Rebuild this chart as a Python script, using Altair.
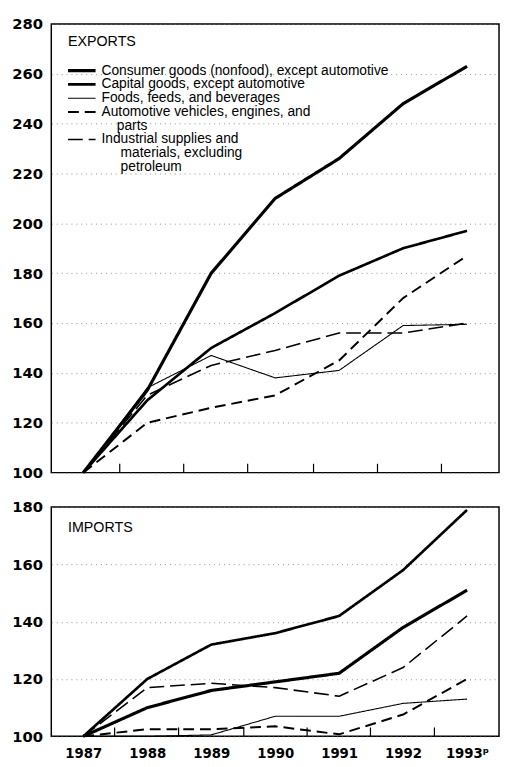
import altair as alt
import pandas as pd

# ---------------- data ----------------
years = [1987, 1988, 1989, 1990, 1991, 1992, 1993]
series_names = [
    "Consumer goods (nonfood), except automotive",
    "Capital goods, except automotive",
    "Foods, feeds, and beverages",
    "Automotive vehicles, engines, and parts",
    "Industrial supplies and materials, excluding petroleum",
]

exports_consumer = [100, 133, 180, 210, 226, 248, 263]
exports_capital = [100, 129, 150, 164, 179, 190, 197]
exports_foods = [100, 134, 147, 138, 141, 159, 159.5]
exports_automotive = [100, 120, 126, 131, 145, 170, 187]
exports_industrial = [100, 131, 143, 149, 156, 156, 160]

imports_consumer = [100, 110, 116, 119, 122, 138, 151]
imports_capital = [100, 120, 132, 136, 142, 158, 179]
imports_foods = [100, 100, 100.5, 107, 107, 111.5, 113]
imports_automotive = [100, 102.5, 102.5, 103.5, 100.7, 107.6, 120]
imports_industrial = [100, 117, 118.5, 117, 114, 124, 142]

export_inner_ticks = [1987.57, 1988.57, 1989.57, 1990.6, 1991.6, 1992.6]
import_inner_ticks = [1987.49, 1988.49, 1989.51, 1990.5, 1991.49, 1992.49]

exports_y_values = [100, 120, 140, 160, 180, 200, 220, 240, 260, 280]
imports_y_values = [100, 120, 140, 160, 180]

# ---------------- styles ----------------
dash_range = [[1, 0], [1, 0], [1, 0], [11, 6], [15, 6]]
width_range = [3.2, 2.7, 1.1, 2.0, 1.6]
TEXT_FONT = "Liberation Sans, Arial, Helvetica, sans-serif"
NUM_FONT = "DejaVu Sans"


def long_table(cols):
    rows = []
    for name, vals in zip(series_names, cols):
        for y, v in zip(years, vals):
            rows.append({"year": y, "value": v, "series": name})
    return pd.DataFrame(rows)


exports_df = long_table([exports_consumer, exports_capital, exports_foods,
                         exports_automotive, exports_industrial])
imports_df = long_table([imports_consumer, imports_capital, imports_foods,
                         imports_automotive, imports_industrial])

ind = "\u200b" + "\u00a0" * 4
ind2 = "\u200b" + "\u00a0" * 5
label_expr = (
    "datum.label == 'Automotive vehicles, engines, and parts' ? "
    "['Automotive vehicles, engines, and', '" + ind + "parts'] : "
    "datum.label == 'Industrial supplies and materials, excluding petroleum' ? "
    "['Industrial supplies and', '" + ind2 + "materials, excluding', '" + ind2 + "petroleum'] : "
    "datum.label"
)

legend = alt.Legend(
    title="EXPORTS",
    orient="none",
    legendX=17,
    legendY=11,
    symbolType="M-3.5,0H10.5",
    symbolSize=16,
    symbolStrokeColor="black",
    symbolFillColor="transparent",
    labelExpr=label_expr,
    labelFont=TEXT_FONT,
    labelFontSize=14,
    labelColor="black",
    labelOffset=20,
    labelLimit=400,
    rowPadding=0,
    titleFont=TEXT_FONT,
    titleFontSize=14.5,
    titleFontWeight="normal",
    titleColor="black",
    titlePadding=15,
)

x_scale = alt.Scale(domain=[1986.5, 1993.5], nice=False, zero=False)


def panel(df, ydomain, yvalues, inner_ticks, height, top):
    y_axis = alt.Axis(
        values=yvalues, title=None, ticks=False, domain=False, grid=True,
        gridDash=[1, 4], gridColor="#777", gridWidth=0.8,
        labelFont=NUM_FONT, labelFontWeight="bold", labelFontSize=15,
        labelColor="black", labelPadding=9,
    )
    if top:
        x_axis = None
        lg = legend
    else:
        x_axis = alt.Axis(
            values=years, title=None, ticks=False, domain=False, grid=False,
            labelExpr="datum.value == 1993 ? '1993\u1d56' : datum.value",
            labelFont=NUM_FONT, labelFontWeight="bold", labelFontSize=13.5,
            labelColor="black", labelPadding=11,
        )
        lg = None
    dash = alt.StrokeDash("series:N", sort=series_names,
                          scale=alt.Scale(type="ordinal", domain=series_names, range=dash_range),
                          legend=lg)
    width = alt.StrokeWidth("series:N", sort=series_names,
                            scale=alt.Scale(type="ordinal", domain=series_names, range=width_range),
                            legend=lg)

    lines = alt.Chart(df).mark_line(color="black", strokeJoin="round").encode(
        x=alt.X("year:Q", scale=x_scale, axis=x_axis),
        y=alt.Y("value:Q", scale=alt.Scale(domain=ydomain, nice=False, zero=False), axis=y_axis),
        strokeDash=dash,
        strokeWidth=width,
    )
    ticks = alt.Chart(pd.DataFrame({"pos": inner_ticks})).mark_rule(color="black", strokeWidth=1.2).encode(
        x=alt.X("pos:Q", scale=x_scale),
        y=alt.value(height),
        y2=alt.value(height - 9),
    )
    layers = [lines, ticks]
    if not top:
        label = alt.Chart(pd.DataFrame({"t": ["IMPORTS"]})).mark_text(
            align="left", baseline="middle", font=TEXT_FONT, fontSize=14.5, color="black"
        ).encode(text="t:N", x=alt.value(17), y=alt.value(21))
        layers.append(label)
    return alt.layer(*layers).properties(width=455, height=height)


top_chart = panel(exports_df, [100, 280], exports_y_values, export_inner_ticks, 456, True)
bottom_chart = panel(imports_df, [100, 180], imports_y_values, import_inner_ticks, 233, False)

chart = alt.vconcat(top_chart, bottom_chart, spacing=35, bounds="flush").resolve_scale(
    strokeDash="independent", strokeWidth="independent"
).properties(
    padding={"left": 2, "top": 2, "right": 0, "bottom": 0}
).configure(
    background="white",
    style={"guide-label": {"lineHeight": 14}},
).configure_view(
    stroke="black", strokeWidth=1.5
)

chart.save("out.html", embed_options={"renderer": "svg", "actions": False})
